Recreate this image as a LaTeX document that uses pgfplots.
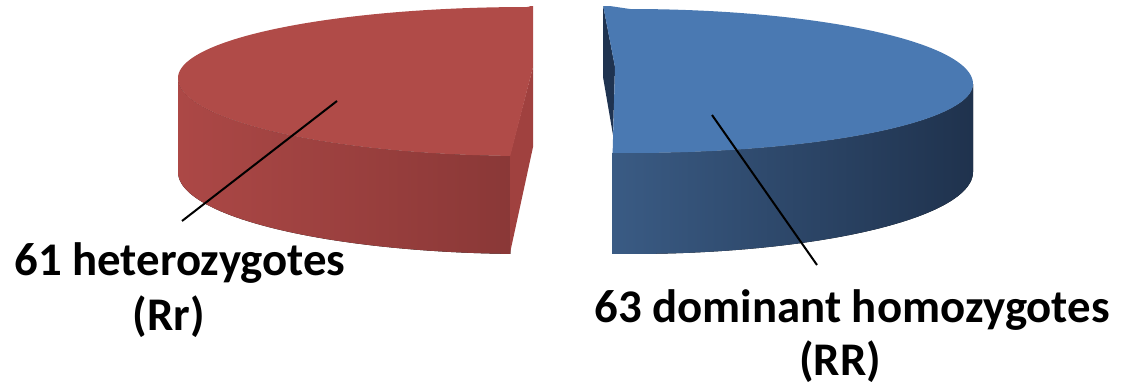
\documentclass[border=0pt]{standalone}
\usepackage{pgfplots}
\pgfplotsset{compat=1.18}
\usepackage{pgfplotstable}
\usepgfplotslibrary{fillbetween}
\usepackage{fontspec}
\setmainfont{Carlito}

\definecolor{redtop}{RGB}{176,75,72}
\definecolor{redwallL}{RGB}{172,72,70}
\definecolor{redwallR}{RGB}{138,56,55}
\definecolor{redcut}{RGB}{160,65,63}
\definecolor{bluetop}{RGB}{74,121,178}
\definecolor{bluewallL}{RGB}{58,91,132}
\definecolor{bluewallR}{RGB}{31,50,77}
\definecolor{bluecut}{RGB}{31,51,80}

\pgfplotstableread{
label value
Rr 61
RR 63
}\pietable
\pgfplotstablegetelem{0}{value}\of\pietable \let\vA\pgfplotsretval
\pgfplotstablegetelem{1}{value}\of\pietable \let\vB\pgfplotsretval
\pgfmathsetmacro\frac{\vA/(\vA+\vB)}
\pgfmathsetmacro\cut{90+360*\frac}
\pgfmathsetmacro\cutB{\cut-360}

\begin{document}
\begin{tikzpicture}
\begin{axis}[
  scale only axis, width=564pt, height=189.5pt,
  xmin=0, xmax=1128, ymin=7, ymax=386, y dir=reverse,
  hide axis, clip mode=individual]
% ---------- red slice (61) ----------
\addplot[draw=none, name path=rwt, domain=180:\cut, samples=80]
  ({528+350*cos(x)},{78-78*sin(x)});
\addplot[draw=none, name path=rwb, domain=180:\cut, samples=80]
  ({528+350*cos(x)},{172-82*sin(x)});
\addplot[left color=redwallL, right color=redwallR, draw=none] fill between[of=rwt and rwb];
\addplot[fill=redcut, draw=none] coordinates {(533,67) (510,155) (510,253) (533,147)} -- cycle;
\addplot[fill=redtop, draw=none, domain=90:\cut, samples=150]
  ({528+350*cos(x)},{78-(sin(x)>0 ? 71 : 78)*sin(x)}) -- (axis cs:533,67) -- (axis cs:533,5) -- cycle;
% ---------- blue slice (63) ----------
\addplot[fill=bluecut, draw=none] coordinates {(603,5) (603,77) (613,135) (615,67)} -- cycle;
\addplot[draw=none, name path=bwt, domain=\cutB:0, samples=80]
  ({630+343*cos(x)},{84-69*sin(x)});
\addplot[draw=none, name path=bwb, domain=\cutB:0, samples=80]
  ({630+343*cos(x)},{172-82*sin(x)});
\addplot[left color=bluewallL, right color=bluewallR, draw=none] fill between[of=bwt and bwb];
\addplot[fill=bluetop, draw=none, domain=\cutB:90, samples=150]
  ({630+343*cos(x)},{84-(sin(x)>0 ? 75 : 69)*sin(x)}) -- (axis cs:603,5) -- (axis cs:615,67) -- cycle;
% ---------- leader lines ----------
\addplot[black, line width=1pt] coordinates {(337,101) (182,221)};
\addplot[black, line width=1pt] coordinates {(712,115) (817,265)};
% ---------- labels ----------
\node[anchor=base, font=\bfseries\fontsize{23.4}{28}\selectfont, inner sep=0pt] at (axis cs:180,275) {61 heterozygotes};
\node[anchor=base, font=\bfseries\fontsize{23.4}{28}\selectfont, inner sep=0pt] at (axis cs:169,330) {(Rr)};
\node[anchor=base, font=\bfseries\fontsize{23.4}{28}\selectfont, inner sep=0pt] at (axis cs:852,322) {63 dominant homozygotes};
\node[anchor=base, font=\bfseries\fontsize{23.4}{28}\selectfont, inner sep=0pt] at (axis cs:840,375) {(RR)};
\end{axis}
\pgfresetboundingbox
\useasboundingbox (current axis.south west) rectangle ([yshift=3.5pt]current axis.north east);
\end{tikzpicture}
\end{document}
